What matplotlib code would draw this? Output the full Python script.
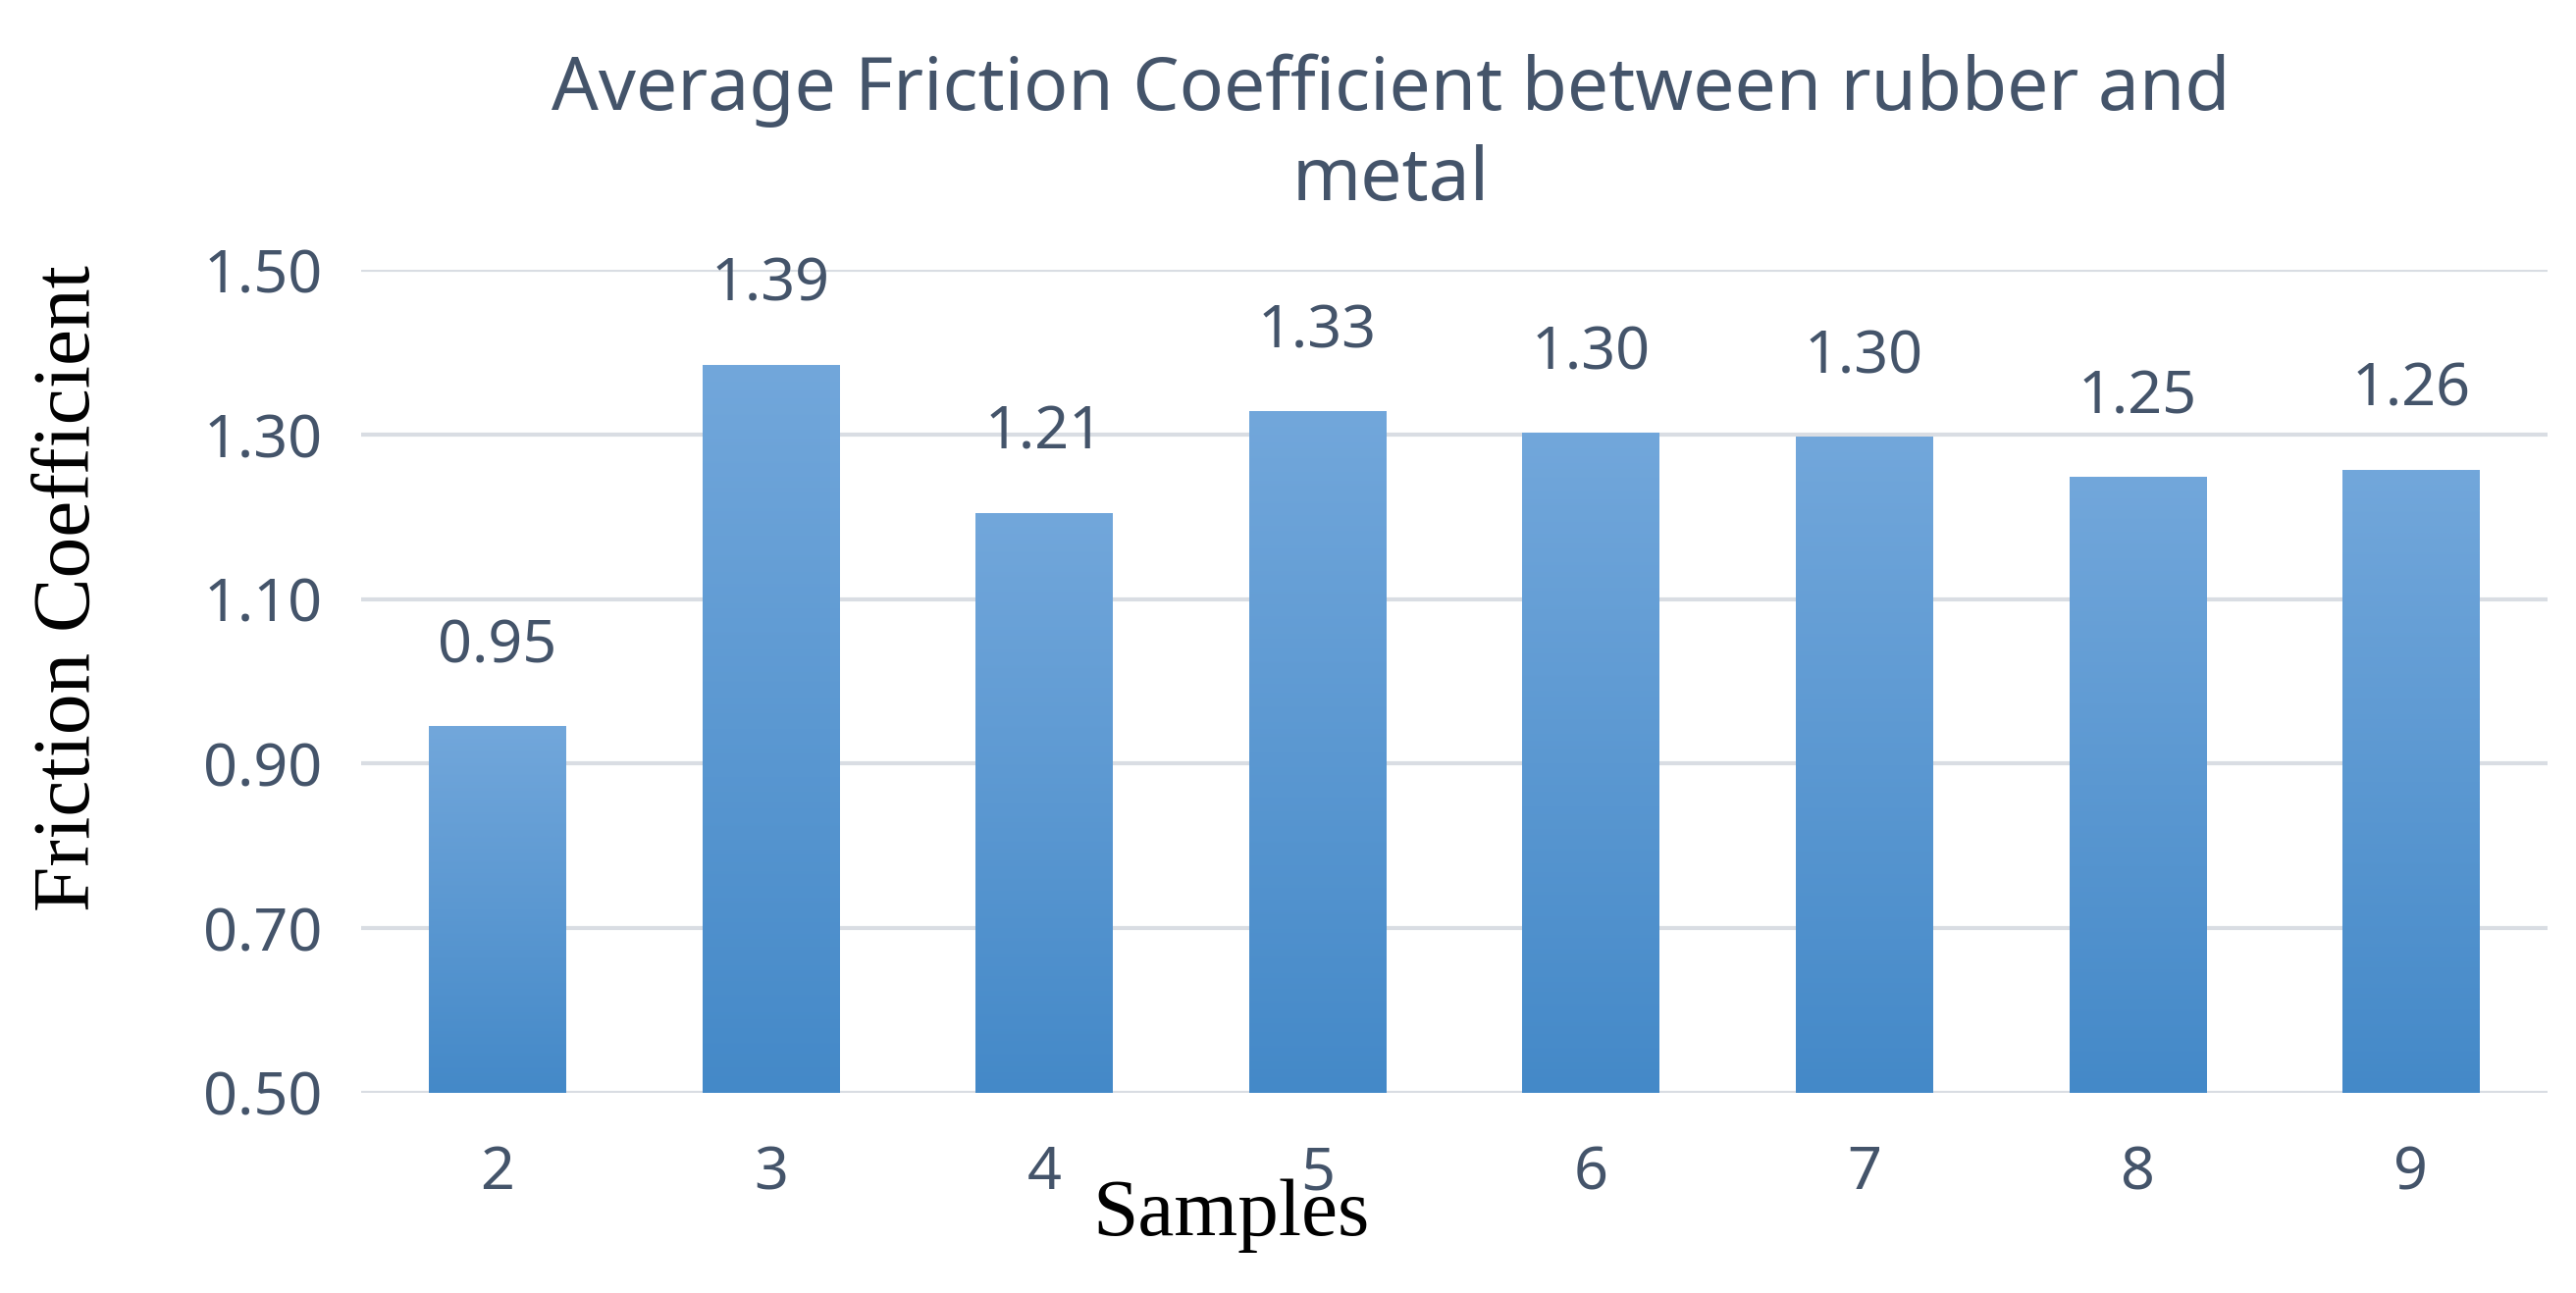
import matplotlib.pyplot as plt
import numpy as np
from matplotlib.colors import LinearSegmentedColormap

samples = ["2", "3", "4", "5", "6", "7", "8", "9"]
values = [0.945, 1.385, 1.205, 1.328, 1.302, 1.297, 1.248, 1.257]
labels = ["0.95", "1.39", "1.21", "1.33", "1.30", "1.30", "1.25", "1.26"]

text_color = "#44546a"
fig = plt.figure(figsize=(26.25, 13.18), dpi=100)
ax = fig.add_axes([0.140, 0.155, 0.849, 0.636])

cmap = LinearSegmentedColormap.from_list("bar", ["#4489c8", "#72a7db"])
grad = np.linspace(0, 1, 256).reshape(-1, 1)
ymin = 0.5
width = 0.5
for i, v in enumerate(values):
    ax.imshow(grad, cmap=cmap, origin="lower", aspect="auto",
              extent=[i - width / 2, i + width / 2, ymin, v], zorder=2)
    ax.text(i, v + 0.06, labels[i], ha="center", va="bottom", fontsize=44,
            color=text_color, family="Noto Sans", clip_on=False)

ax.set_xlim(-0.5, len(samples) - 0.5)
ax.set_ylim(0.5, 1.5)
ax.set_yticks([0.5, 0.7, 0.9, 1.1, 1.3, 1.5])
ax.set_yticklabels(["0.50", "0.70", "0.90", "1.10", "1.30", "1.50"])
ax.set_xticks(range(len(samples)))
ax.set_xticklabels(samples)
ax.tick_params(length=0, labelsize=44, labelcolor=text_color, pad=38)
ax.tick_params(axis="y", pad=28)
for lab in ax.get_xticklabels() + ax.get_yticklabels():
    lab.set_family("Noto Sans")
ax.grid(axis="y", color="#d9dde3", linewidth=3, zorder=0)
ax.set_axisbelow(True)
for s in ax.spines.values():
    s.set_visible(False)

fig.text(0.54, 0.895, "Average Friction Coefficient between rubber and\nmetal",
         ha="center", va="center", fontsize=54, fontweight="bold",
         family="Noto Sans", color=text_color, linespacing=1.3)
fig.text(0.478, 0.06, "Samples", ha="center", va="center", fontsize=60,
         family="Liberation Serif", color="black")
fig.text(0.027, 0.545, "Friction Coefficient", ha="center", va="center",
         fontsize=60, family="Liberation Serif", rotation=90, color="black")

fig.savefig("out.png", dpi=100)
